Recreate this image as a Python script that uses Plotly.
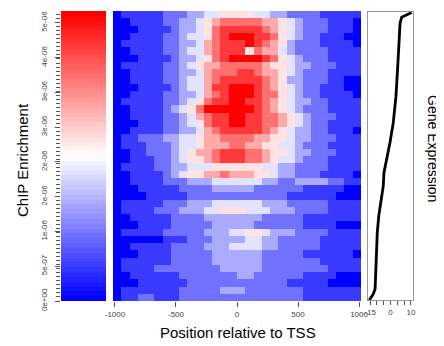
import plotly.graph_objects as go
import numpy as np

# ---- data ----
# bin centres (position relative to TSS, bp)
positions = [-982, -914, -847, -779, -711, -643, -576, -508, -440, -372,
             -305, -237, -169, -102, -34, 34, 102, 169, 237, 305,
             372, 440, 508, 576, 643, 711, 779, 847, 914, 982]

# enrichment level per gene (row, top = highest expression) and bin; 0 = low (blue), 9 = high (red)
rows = [
    "01111 12223 34455 55443 32222 11111",
    "00111 12233 45677 77766 54322 21110",
    "00011 11233 45788 88876 54322 21110",
    "00111 12234 45789 99887 54322 11100",
    "01111 12233 46788 89876 53222 11110",
    "00111 12234 46788 85766 43222 21111",
    "00011 11233 45789 99987 54322 21111",
    "01111 12234 56677 77765 54332 22111",
    "00111 12233 46777 88766 54322 21111",
    "00111 12234 46788 88876 53322 21100",
    "00011 11234 46889 99876 54322 11100",
    "00111 12233 46789 99877 54322 11110",
    "01111 12234 57889 98876 54332 21111",
    "00111 12345 79999 99876 54322 21111",
    "00111 12234 67889 98877 65432 22111",
    "00011 12234 57889 98877 65432 21111",
    "00111 12233 46788 88876 54332 21110",
    "01122 23344 56677 77665 54332 22111",
    "01112 22344 56667 76655 44322 21111",
    "00112 22345 66788 87765 54332 22111",
    "00111 22345 56788 87765 44322 21111",
    "01111 22334 44555 55544 33222 21111",
    "00111 12345 56676 66554 33222 11110",
    "00111 12223 33444 44433 22333 32211",
    "00011 11122 22333 33222 22211 11100",
    "00001 11112 22222 22222 21111 11000",
    "01111 12223 33444 44433 32222 21111",
    "01111 22233 34455 54443 33222 21111",
    "00111 11222 23333 33322 22211 11111",
    "00011 11222 22333 33222 22211 11000",
    "01111 12222 23334 45543 33222 21111",
    "00000 01112 22333 34433 22222 11111",
    "00111 11222 23334 44433 22222 11111",
    "00011 11222 22333 33322 22211 11110",
    "01111 11222 22333 33322 22222 11111",
    "01111 22222 22233 33322 22222 21111",
    "00111 11122 22222 33222 22211 11000",
    "00011 11112 22222 22222 21111 10000",
    "01111 11122 22233 32222 22211 11111",
    "01122 11122 22222 22222 22211 11111",
]
genes = list(range(len(rows)))

# gene expression curve: expression value vs. gene percentile (0 = bottom row)
expr_values = [-15.5, -12.6, -11.3, -10.6, -9.7, -8.6, -7.2, -6.0, -5.3, -4.8,
               -2.8, -0.4, 2.0, 4.0, 5.3, 6.2, 7.0, 8.2, 11.9, 15.5]
expr_pct = [0, 2.1, 3.8, 11.9, 23.4, 29.2, 33.8, 36.1, 39.6, 44.2,
            48.8, 54.6, 61.5, 70.7, 81.1, 90.3, 96.1, 98.2, 99.0, 99.8]

# colour key tick labels (bottom to top)
key_labels = ["0e+00", "5e-07", "1e-06", "2e-06", "2e-06", "3e-06", "3e-06", "4e-06", "5e-06"]
x_ticks = [-1000, -500, 0, 500, 1000]
expr_ticks = [-15, -10, -5, 0, 5, 10, 15]
expr_ticktext = ["-15", "", "", "0", "", "", "10"]

z = [[int(ch) for ch in r.replace(" ", "")] for r in rows]

# colour key bands (legend gradient)
KEY_TOP = 8.34
n_key = 60
key_levels = np.linspace(0, 9, n_key)
key_y = (np.arange(n_key) + 0.5) * KEY_TOP / n_key

cs = [[0, "rgb(0,0,255)"], [0.5, "rgb(255,255,255)"], [1, "rgb(255,0,0)"]]

# the page body adds an 8px margin; lay out in window pixels minus that offset
W, H = 444, 346
OFF = 8
FW, FH = W - OFF, H - OFF
def px(x): return (x - OFF) / FW
def py(y): return 1 - (y - OFF) / FH

ydom = [py(301), py(11)]
font = "Liberation Sans, Arial, sans-serif"
tcol = "#555"

fig = go.Figure()
fig.add_trace(go.Heatmap(x=[0], y=key_y, z=[[v] for v in key_levels], colorscale=cs,
                         zmin=0, zmax=9, showscale=False, xaxis="x", yaxis="y",
                         hoverinfo="skip"))
fig.add_trace(go.Heatmap(x=positions, y=genes, z=z, colorscale=cs, zmin=0, zmax=9,
                         showscale=False, xaxis="x2", yaxis="y2"))
fig.add_trace(go.Scatter(x=expr_values, y=expr_pct, mode="lines",
                         line=dict(color="black", width=2.8),
                         xaxis="x3", yaxis="y3", showlegend=False))

fig.update_layout(
    width=FW, height=FH, margin=dict(l=0, r=0, t=0, b=0, autoexpand=False),
    paper_bgcolor="white", plot_bgcolor="white",
    font=dict(family=font, color="black"),
    showlegend=False,
    xaxis=dict(domain=[px(61), px(106)], range=[-0.5, 0.5], visible=False, anchor="y",
               automargin=False),
    yaxis=dict(domain=ydom, range=[0, KEY_TOP], anchor="x", automargin=False,
               tickvals=list(range(len(key_labels))), ticktext=key_labels,
               tickangle=-90, ticks="outside", ticklen=5, tickcolor=tcol,
               ticklabelstandoff=5,
               tickfont=dict(size=8, color="#444"),
               minor=dict(ticks="outside", dtick=0.116, ticklen=4, tickcolor=tcol, showgrid=False),
               showgrid=False, zeroline=False, showline=False),
    xaxis2=dict(domain=[px(113), px(361)], range=[-1016, 1016], anchor="y2", automargin=False,
                tickvals=x_ticks, ticktext=[str(v) for v in x_ticks],
                ticks="outside", ticklen=5, tickcolor=tcol,
                tickfont=dict(size=8, color="#444"),
                showgrid=False, zeroline=False, showline=False),
    yaxis2=dict(domain=ydom, range=[len(rows) - 0.5, -0.5], visible=False, anchor="x2",
                automargin=False),
    xaxis3=dict(domain=[px(368), px(413)], range=[-16.5, 16.5], anchor="y3", automargin=False,
                tickvals=expr_ticks, ticktext=expr_ticktext,
                ticks="outside", ticklen=4, tickcolor=tcol,
                tickfont=dict(size=8, color="#444"),
                showline=True, mirror=True, linecolor="#999", linewidth=1,
                showgrid=False, zeroline=False),
    yaxis3=dict(domain=[py(300), py(12)], range=[0, 100], anchor="x3", automargin=False,
                showticklabels=False, ticks="",
                showline=True, mirror=True, linecolor="#999", linewidth=1,
                showgrid=False, zeroline=False),
    annotations=[
        dict(text="ChIP Enrichment", x=px(22), y=py(160), xref="paper", yref="paper",
             showarrow=False, textangle=-90, font=dict(size=15, family=font),
             xanchor="center", yanchor="middle"),
        dict(text="Position relative to TSS", x=px(238), y=py(332), xref="paper", yref="paper",
             showarrow=False, font=dict(size=15, family=font),
             xanchor="center", yanchor="middle"),
        dict(text="Gene Expression", x=px(433), y=py(148), xref="paper", yref="paper",
             showarrow=False, textangle=90, font=dict(size=14, family=font),
             xanchor="center", yanchor="middle"),
    ],
)

fig.write_html("out.html")
